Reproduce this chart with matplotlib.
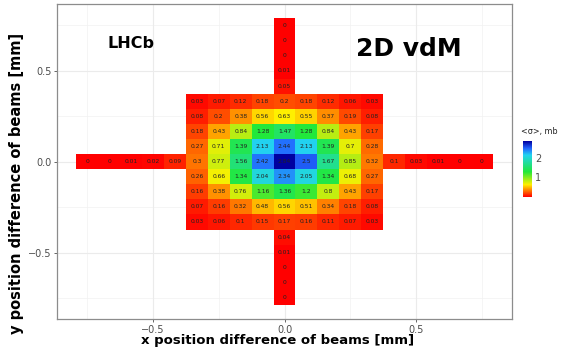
import numpy as np
import matplotlib
matplotlib.use('Agg')
import matplotlib.pyplot as plt
from matplotlib.colors import LinearSegmentedColormap

step = 0.083

##central 9x9 block, rows from top (y=+4) to bottom (y=-4)
core = [
    [0.03, 0.07, 0.12, 0.18, 0.2, 0.18, 0.12, 0.06, 0.03],
    [0.08, 0.2, 0.38, 0.56, 0.63, 0.55, 0.37, 0.19, 0.08],
    [0.18, 0.43, 0.84, 1.28, 1.47, 1.28, 0.84, 0.43, 0.17],
    [0.27, 0.71, 1.39, 2.13, 2.44, 2.13, 1.39, 0.7, 0.28],
    [0.3, 0.77, 1.56, 2.42, 2.84, 2.5, 1.67, 0.85, 0.32],
    [0.26, 0.66, 1.34, 2.04, 2.34, 2.05, 1.34, 0.68, 0.27],
    [0.16, 0.38, 0.76, 1.16, 1.36, 1.2, 0.8, 0.43, 0.17],
    [0.07, 0.16, 0.32, 0.48, 0.56, 0.51, 0.34, 0.18, 0.08],
    [0.03, 0.06, 0.1, 0.15, 0.17, 0.16, 0.11, 0.07, 0.03],
]
##arms of the cross
left_arm = [0, 0, 0.01, 0.02, 0.09]      # x=-9..-5
right_arm = [0.1, 0.03, 0.01, 0, 0]      # x=5..9
top_arm = [0, 0, 0, 0.01, 0.05]          # y=9..5
bottom_arm = [0.04, 0.01, 0, 0, 0]       # y=-5..-9

cells = []
for r, row in enumerate(core):
    for c, v in enumerate(row):
        cells.append((c - 4, 4 - r, v))
for k, v in enumerate(left_arm):
    cells.append((-9 + k, 0, v))
for k, v in enumerate(right_arm):
    cells.append((5 + k, 0, v))
for k, v in enumerate(top_arm):
    cells.append((0, 9 - k, v))
for k, v in enumerate(bottom_arm):
    cells.append((0, -5 - k, v))

cmap = LinearSegmentedColormap.from_list('rb', [
    (0.0, '#FF0000'), (0.22, '#FFF000'), (0.45, '#22E83A'),
    (0.75, '#22D4F0'), (0.87, '#2266FF'), (1.0, '#0000A0')])
vmax = max(c[2] for c in cells)

fig = plt.figure(figsize=(5.61, 3.51), dpi=100)
ax = fig.add_axes([0.1016, 0.0912, 0.8111, 0.8974])

grey = '#4D4D4D'
for xv in [-0.75, -0.25, 0.25, 0.75]:
    ax.axvline(xv, color='#F2F2F2', lw=0.5, zorder=0)
    ax.axhline(xv, color='#F2F2F2', lw=0.5, zorder=0)
for xv in [-0.5, 0, 0.5]:
    ax.axvline(xv, color='#EBEBEB', lw=0.8, zorder=0)
    ax.axhline(xv, color='#EBEBEB', lw=0.8, zorder=0)

for i, j, v in cells:
    x = i * step
    y = j * step
    ax.add_patch(plt.Rectangle((x - step / 2, y - step / 2), step, step,
                               facecolor=cmap(v / vmax), edgecolor='none', zorder=2))
    ax.text(x, y, '{:g}'.format(v), ha='center', va='center', fontsize=4.3, color='#222222', zorder=3)

ax.set_xlim(-0.862, 0.862)
ax.set_ylim(-0.865, 0.866)
ax.set_xticks([-0.5, 0, 0.5])
ax.set_yticks([-0.5, 0, 0.5])
ax.set_xticklabels(['\u22120.5', '0.0', '0.5'])
ax.set_yticklabels(['\u22120.5', '0.0', '0.5'])
ax.tick_params(colors=grey, labelsize=7, length=2, width=0.6, pad=2)
for s in ax.spines.values():
    s.set_color('#8C8C8C')
    s.set_linewidth(0.9)

fig.text(0.494, 0.03, 'x position difference of beams [mm]', ha='center', va='center',
         fontsize=9.5, fontweight='bold')
fig.text(0.03, 0.476, 'y position difference of beams [mm]', ha='center', va='center',
         rotation=90, fontsize=10.5, fontweight='bold')

ax.text(-0.58, 0.65, 'LHCb', ha='center', va='center', fontsize=11.5, fontweight='bold')
ax.text(0.47, 0.62, '2D vdM', ha='center', va='center', fontsize=18, fontweight='bold')

##colour bar
cax = fig.add_axes([0.932, 0.44, 0.0143, 0.157])
grad = np.linspace(0, vmax, 200).reshape(-1, 1)
cax.imshow(grad, aspect='auto', cmap=cmap, origin='lower', extent=[0, 1, 0, vmax])
cax.set_xticks([])
cax.set_yticks([1, 2])
cax.yaxis.tick_right()
cax.tick_params(length=0, labelsize=7, colors=grey, pad=3)
for s in cax.spines.values():
    s.set_visible(False)
fig.text(0.928, 0.625, '<\u03c3>, mb', fontsize=5.8, color='#222222', ha='left', va='center')

fig.savefig('out.png', dpi=100)
